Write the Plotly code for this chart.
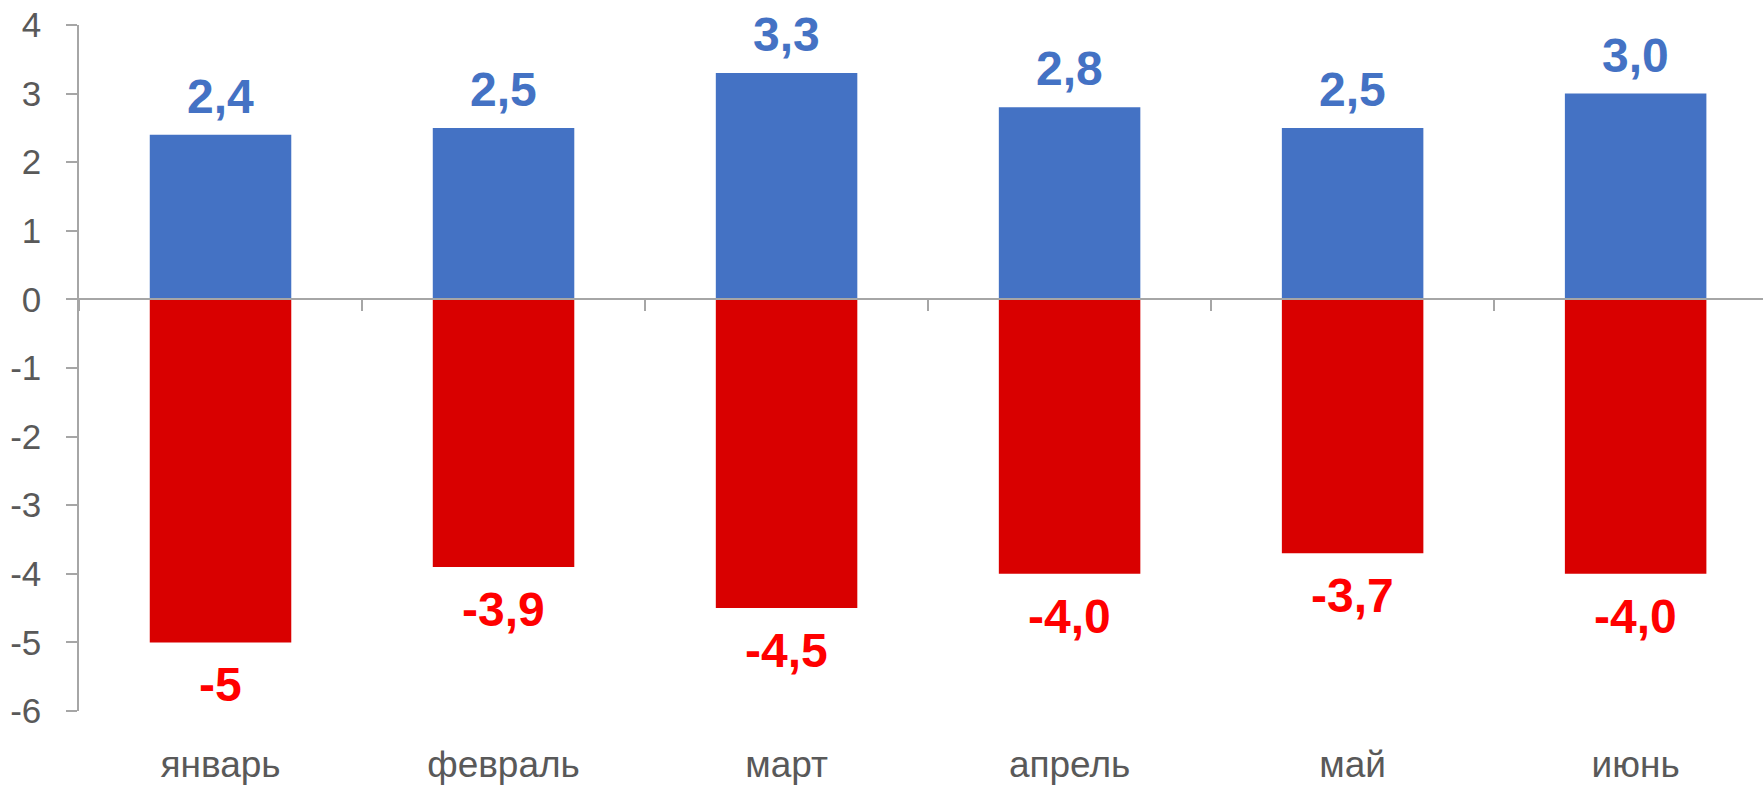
import plotly.graph_objects as go

months = ["январь", "февраль", "март", "апрель", "май", "июнь"]
plus = [2.4, 2.5, 3.3, 2.8, 2.5, 3.0]
minus = [-5, -3.9, -4.5, -4.0, -3.7, -4.0]
plus_text = ["2,4", "2,5", "3,3", "2,8", "2,5", "3,0"]
minus_text = ["-5", "-3,9", "-4,5", "-4,0", "-3,7", "-4,0"]
y_ticks = [4, 3, 2, 1, 0, -1, -2, -3, -4, -5, -6]
y_tick_text = ["4", "3", "2", "1", "0", "-1", "-2", "-3", "-4", "-5", "-6"]

FONT = "Liberation Sans, Arial, sans-serif"
GRAY = "#a6a6a6"

fig = go.Figure()
fig.add_trace(go.Bar(x=months, y=plus, marker_color="#4472c4", width=0.5,
                     marker_line_width=0, showlegend=False))
fig.add_trace(go.Bar(x=months, y=minus, marker_color="#d90000", width=0.5,
                     marker_line_width=0, showlegend=False))
# invisible trace so the zero-line axis with boundary ticks gets drawn
fig.add_trace(go.Scatter(x=months, y=[0] * len(months), mode="none",
                         xaxis="x2", showlegend=False, hoverinfo="skip"))

for m, v, t in zip(months, plus, plus_text):
    fig.add_annotation(x=m, y=v, text=t, showarrow=False, yanchor="bottom",
                       yshift=10, font=dict(family=FONT, size=48, color="#4472c4",
                                            weight="bold"))
for m, v, t in zip(months, minus, minus_text):
    fig.add_annotation(x=m, y=v, text=t, showarrow=False, yanchor="top",
                       yshift=-14, font=dict(family=FONT, size=48, color="#ff0000",
                                             weight="bold"))

fig.update_layout(
    width=1763, height=786,
    margin=dict(l=79, r=0, t=25, b=75),
    barmode="relative",
    plot_bgcolor="white", paper_bgcolor="white",
    font=dict(family=FONT, color="#595959"),
    xaxis=dict(type="category", range=[-0.5, 5.45], showline=False,
               automargin=False, showgrid=False, ticks="",
               ticklabelstandoff=28,
               tickfont=dict(size=37, color="#595959")),
    xaxis2=dict(type="category", range=[-0.5, 5.45], overlaying="x",
                anchor="free", position=0.6, side="bottom", automargin=False,
                showline=True, linecolor=GRAY, linewidth=1.5,
                ticks="outside", tickson="boundaries", ticklen=11,
                tickcolor=GRAY, tickwidth=1.5, showticklabels=False,
                showgrid=False),
    yaxis=dict(range=[-6, 4], tickvals=y_ticks, ticktext=y_tick_text,
               automargin=False, showgrid=False, zeroline=False,
               showline=True, linecolor=GRAY, linewidth=1.5,
               ticks="outside", ticklen=11, tickcolor=GRAY, tickwidth=1.5,
               ticklabelstandoff=18,
               tickfont=dict(size=35, color="#595959")),
)

# drop the browser's default body margin so the figure fills the window
fig.write_html("out.html", config={"displayModeBar": False},
               post_script="document.body.style.margin = '0px';")
